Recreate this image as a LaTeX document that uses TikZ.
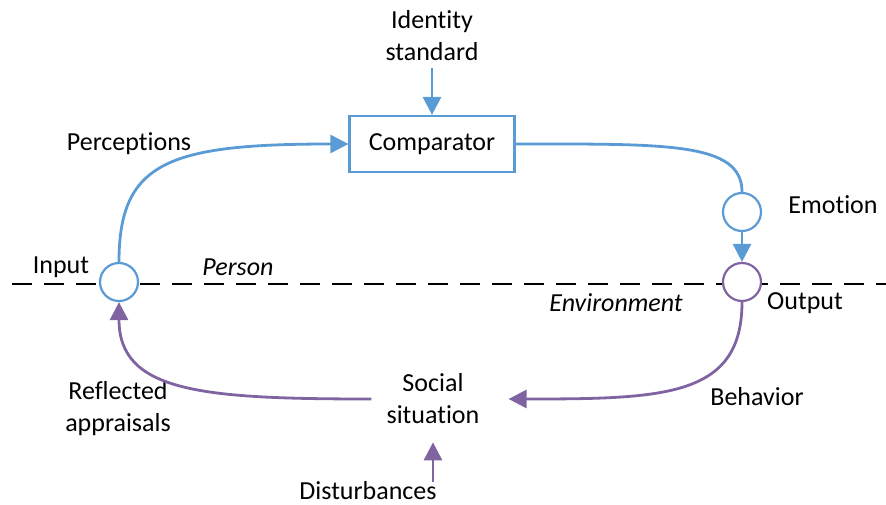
\documentclass[tikz,border=0pt]{standalone}
\usepackage{fontspec}
\setmainfont{Carlito}[Ligatures=NoCommon]
\usetikzlibrary{arrows.meta,positioning}
\definecolor{cblue}{HTML}{5B9BD5}
\definecolor{cpurple}{HTML}{8064A2}

\begin{document}
\begin{tikzpicture}[x=1pt,y=-1pt,
    every node/.append style={font=\fontsize{26}{32}\selectfont},
    lbl/.style={inner sep=0, align=center},
    blueln/.style={draw=cblue, line width=2.8pt},
    purpleln/.style={draw=cpurple, line width=2.8pt},
    arrowhd/.style={-{Triangle[length=18pt,width=18pt]}},
    ring/.style={circle, minimum size=38pt, inner sep=0, line width=2.2pt, fill=white},
    divider/.style={black, line width=2.8pt, dash pattern=on 20pt off 12pt}]
    \useasboundingbox (0,0) rectangle (886,505);

    % person / environment border
    \coordinate (dl) at (12,284);
    \coordinate (dr) at (886,284);
    \draw[divider] (dl) -- (dr);

    \node[lbl] (ident) at (432,36) {Identity\\standard};
    \node[draw=cblue, line width=2.2pt, minimum width=165pt, minimum height=56pt] (comp) at (432,144) {Comparator};
    \node[ring, draw=cblue] (inp) at (119,282) {};
    \node[ring, draw=cblue] (emo) at (742,212) {};
    \node[ring, draw=cpurple] (outp) at (742,282) {};
    \node[lbl, inner xsep=15pt] (social) at (433,399) {Social\\situation};
    \node[lbl] (disturb) at (368,491) {Disturbances};

    \node[lbl] (percep) at (129,144) {Perceptions};
    \node[lbl] (emolbl) at (833,205) {Emotion};
    \node[lbl] (inplbl) at (61,267) {Input};
    \node[lbl] (outlbl) at (805,303) {Output};
    \node[lbl] (person) at (238,267) {\itshape Person};
    \node[lbl] (envir) at (616,303) {\itshape Environment};
    \node[lbl] (behav) at (757,397) {Behavior};
    \node[lbl] (reflect) at (118,409) {Reflected\\appraisals};

    % person side
    \draw[blueln, arrowhd, shorten <=7pt] (ident) -- (comp);
    \draw[blueln, arrowhd] (inp.north) .. controls +(0,-100) and +(-180,0) .. (comp.west);
    \draw[blueln] (comp.east) .. controls +(150,0) and +(0,-50) .. (emo.north);
    \draw[blueln, arrowhd] (emo) -- (outp);

    % environment side
    \draw[purpleln, arrowhd, shorten >=14pt] (outp.south) .. controls +(0,95) and +(170,0) .. (social.east);
    \draw[purpleln, arrowhd] (social.west) .. controls +(-170,0) and +(0,90) .. (inp.south);
    \draw[purpleln, arrowhd, shorten >=18pt] (disturb.north -| social.south) -- (social.south);
\end{tikzpicture}
\end{document}
